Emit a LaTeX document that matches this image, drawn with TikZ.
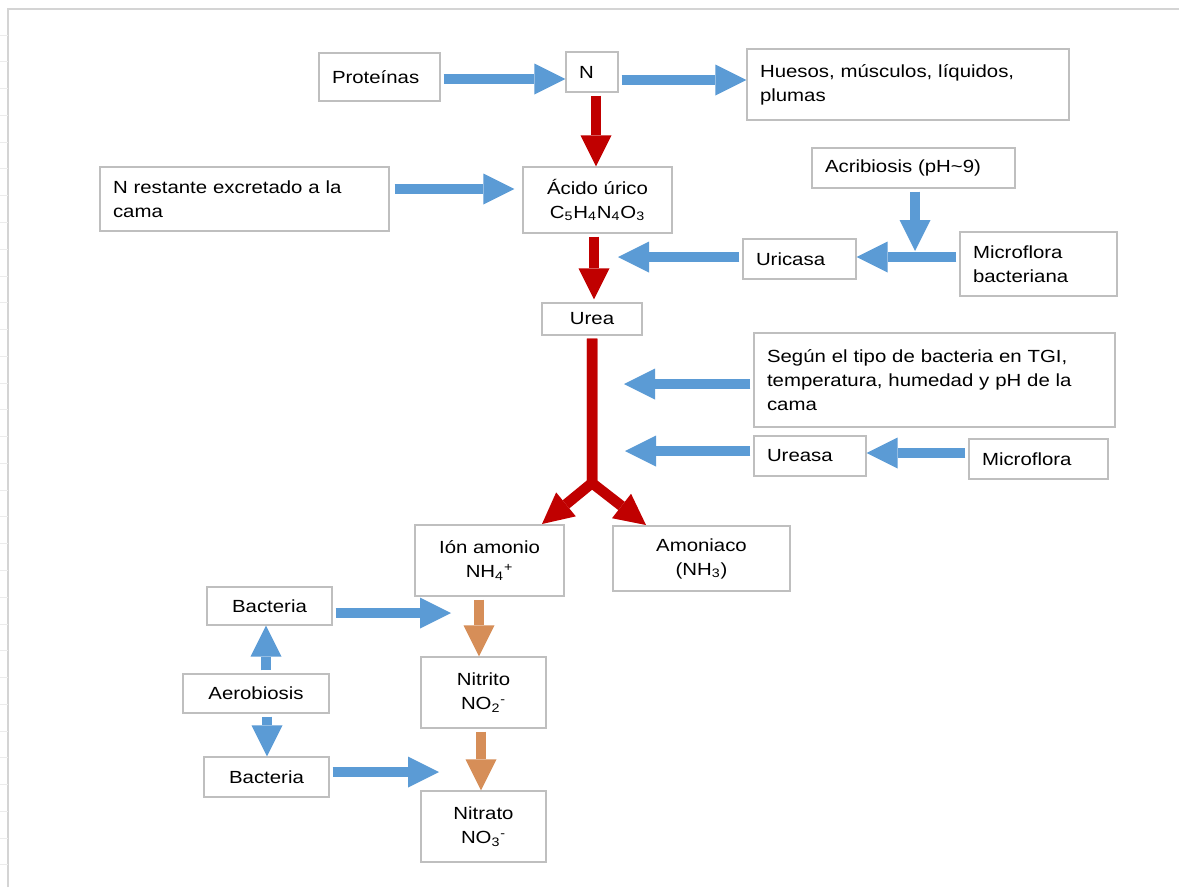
\documentclass[tikz,border=0pt]{standalone}
\usepackage{fontspec}
\setmainfont{Liberation Sans}[FakeStretch=1.16]
\usetikzlibrary{arrows.meta,calc}
\definecolor{boxgray}{RGB}{191,191,191}
\definecolor{framegray}{RGB}{212,212,212}
\definecolor{arrblue}{RGB}{91,155,213}
\definecolor{arrred}{RGB}{192,0,0}
\definecolor{arrorange}{RGB}{214,142,88}
\tikzset{
	cell/.style={draw=boxgray, line width=0.8pt, fill=white, inner xsep=2pt, inner ysep=2pt, align=center, font=\fontsize{10}{13.6}\selectfont},
	lcell/.style={cell, align=left, inner xsep=0.26cm},
	block/.style={line width=0.21cm, shorten <=0.06cm, -{Triangle[length=0.62cm,width=0.62cm,line width=0pt]}},
	bluearr/.style={block, draw=arrblue},
	redarr/.style={block, draw=arrred},
	orarr/.style={block, draw=arrorange}
}

\begin{document}
\begin{tikzpicture}[x=0.02cm,y=-0.02cm]
		\useasboundingbox[fill=white] (0,0) rectangle (1179,887);
		%%% sheet frame
		\draw[framegray, line width=0.8pt] (8,887) -- (8,9) -- (1179,9);
		\foreach \k in {0,...,31}
			\draw[gray!15, line width=0.5pt] (0,35+26.77*\k) -- (8,35+26.77*\k);
		
		%%% top row
		\node[lcell, text width=1.9cm, minimum height=0.96cm] (prot) at (379.5,77) {Proteínas};
		\node[lcell, text width=0.52cm, minimum height=0.8cm] (nitro) at (592,72) {N};
		\node[lcell, text width=5.92cm, minimum height=1.42cm] (hues) at (908,84.5) {Huesos, músculos, líquidos,\\plumas};
		
		%%% acido urico and uricasa
		\node[lcell, text width=5.26cm, minimum height=1.28cm] (rest) at (244.5,199) {N restante excretado a la\\cama};
		\node[cell, minimum width=2.98cm, minimum height=1.32cm] (acido) at (597.5,200) {Ácido úrico\\C\textsubscript{5}H\textsubscript{4}N\textsubscript{4}O\textsubscript{3}};
		\node[lcell, text width=3.54cm, minimum height=0.8cm] (acri) at (913.5,168) {Acribiosis (pH\textasciitilde 9)};
		\node[lcell, text width=1.74cm, minimum height=0.8cm] (uric) at (799.5,259) {Uricasa};
		\node[lcell, text width=2.62cm, minimum height=1.28cm] (micb) at (1038.5,264) {Microflora\\bacteriana};
		
		%%% urea and ureasa
		\node[cell, minimum width=2cm, minimum height=0.64cm] (urea) at (592,319) {Urea};
		\node[lcell, text width=6.7cm, minimum height=1.88cm] (segun) at (934.5,380) {Según el tipo de bacteria en TGI,\\temperatura, humedad y pH de la\\cama};
		\node[lcell, text width=1.72cm, minimum height=0.8cm] (ureasa) at (810,456) {Ureasa};
		\node[lcell, text width=2.26cm, minimum height=0.8cm] (micro) at (1038.5,459) {Microflora};
		
		%%% products
		\node[cell, minimum width=2.98cm, minimum height=1.42cm] (ion) at (489.5,560.5) {Ión amonio\\NH\textsubscript{4}\textsuperscript{+}};
		\node[cell, minimum width=3.54cm, minimum height=1.3cm] (amon) at (701.5,558.5) {Amoniaco\\(NH\textsubscript{3})};
		\node[cell, minimum width=2.5cm, minimum height=1.42cm] (nitri) at (483.5,692.5) {Nitrito\\NO\textsubscript{2}\textsuperscript{-}};
		\node[cell, minimum width=2.5cm, minimum height=1.42cm] (nitra) at (483.5,826.5) {Nitrato\\NO\textsubscript{3}\textsuperscript{-}};
		
		%%% bacteria
		\node[cell, minimum width=2.5cm, minimum height=0.76cm] (bact1) at (269.5,606) {Bacteria};
		\node[cell, minimum width=2.92cm, minimum height=0.78cm] (aero) at (256,693.5) {Aerobiosis};
		\node[cell, minimum width=2.5cm, minimum height=0.8cm] (bact2) at (266.5,777) {Bacteria};
		
		\coordinate (joinA) at (915,251);
		\coordinate (uricTip) at (618,257);
		\coordinate (segTip) at (624,384);
		\coordinate (ureTip) at (625,451);
		\coordinate (fork) at (592,483);
		\coordinate (ltip) at (542,524);
		\coordinate (rtip) at (646,525);
		\coordinate (bacTipA) at (451,613);
		\coordinate (bacTipB) at (439,772);
		
		%%% red path
		\draw[redarr] (nitro.south -| 596,0) -- (acido.north -| 596,0);
		\draw[redarr, shorten >=0.06cm] (acido.south -| 594,0) -- (urea.north -| 594,0);
		\draw[redarr] (urea.south) -- (fork) -- (ltip);
		\draw[redarr] (urea.south) -- (fork) -- (rtip);
		
		%%% blue arrows
		\draw[bluearr] (prot.east |- 0,79) -- (nitro.west |- 0,79);
		\draw[bluearr] (nitro.east |- 0,80) -- (hues.west |- 0,80);
		\draw[bluearr, shorten <=0.1cm, shorten >=0.16cm] (rest.east |- 0,189) -- (acido.west |- 0,189);
		\draw[bluearr] (acri.south -| 915,0) -- (joinA);
		\draw[bluearr] (micb.west |- 0,257) -- (uric.east |- 0,257);
		\draw[bluearr] (uric.west |- 0,257) -- (uricTip);
		\draw[bluearr] (segun.west |- 0,384) -- (segTip);
		\draw[bluearr] (ureasa.west |- 0,451) -- (ureTip);
		\draw[bluearr] (micro.west |- 0,453) -- (ureasa.east |- 0,453);
		\draw[bluearr] (bact1.east |- 0,613) -- (bacTipA);
		\draw[bluearr] (aero.north -| 266,0) -- (bact1.south -| 266,0);
		\draw[bluearr] (aero.south -| 267,0) -- (bact2.north -| 267,0);
		\draw[bluearr] (bact2.east |- 0,772) -- (bacTipB);
		
		%%% nitrification
		\draw[orarr] (ion.south -| 479,0) -- (nitri.north -| 479,0);
		\draw[orarr] (nitri.south -| 481,0) -- (nitra.north -| 481,0);
	\end{tikzpicture}
\end{document}
